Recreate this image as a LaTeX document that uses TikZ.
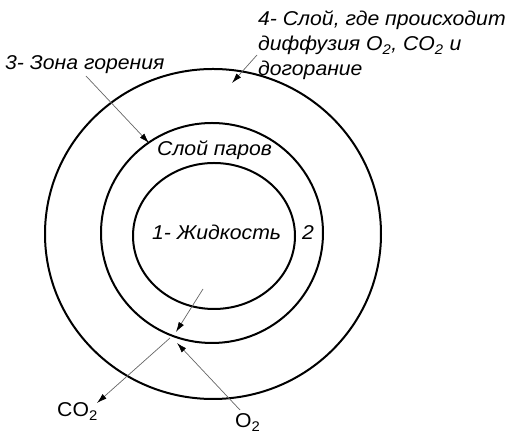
\documentclass[tikz,border=0pt]{standalone}
\usepackage{fontspec}
\setmainfont{Liberation Sans}[FakeStretch=1.06]
\usetikzlibrary{arrows.meta}
\begin{document}
\begin{tikzpicture}[x=1pt, y=1pt, >={Latex[length=10pt,width=6pt,black]},
  ring/.style={line width=2pt},
  ptr/.style={->, draw=black!60, line width=0.7pt},
  lbl/.style={inner sep=0pt, anchor=base west, font=\fontsize{20}{25}\selectfont\itshape},
  gas/.style={inner sep=0pt, anchor=base west, font=\fontsize{20}{25}\selectfont}]
\useasboundingbox (0,0) rectangle (507,435);
% Зоны горения
\draw[ring] (213,201) ellipse [x radius=168, y radius=165];
\draw[ring] (212,202) ellipse [x radius=111, y radius=110];
\draw[ring] (214,199) ellipse [x radius=81, y radius=73];
% Подписи
\node[lbl] (liquid) at (152,195) {1- Жидкость};
\node[lbl] (two) at (302,195) {2};
\node[lbl] (vapour) at (157,279) {Слой паров};
\node[lbl] (zone) at (5,365) {3- Зона горения};
\node[lbl, align=left] (layer) at (258,359) {4- Слой, где происходит\\диффузия O\textsubscript{2}, CO\textsubscript{2} и\\догорание};
\node[gas] (co2) at (57,18) {CO\textsubscript{2}};
\node[gas] (o2) at (235,7) {O\textsubscript{2}};
% Стрелки
\coordinate (zoneS) at (86,359);
\coordinate (zoneE) at (149,292);
\coordinate (layerS) at (257,380);
\coordinate (layerE) at (232,352);
\coordinate (outS) at (203,146);
\coordinate (outE) at (176,103);
\coordinate (co2S) at (170,97);
\coordinate (co2E) at (97,32);
\coordinate (o2S) at (240,25);
\coordinate (o2E) at (177,92);
\draw[ptr] (zoneS) -- (zoneE);
\draw[ptr] (layerS) -- (layerE);
\draw[ptr] (outS) -- (outE);
\draw[ptr] (co2S) -- (co2E);
\draw[ptr] (o2S) -- (o2E);
\end{tikzpicture}
\end{document}
